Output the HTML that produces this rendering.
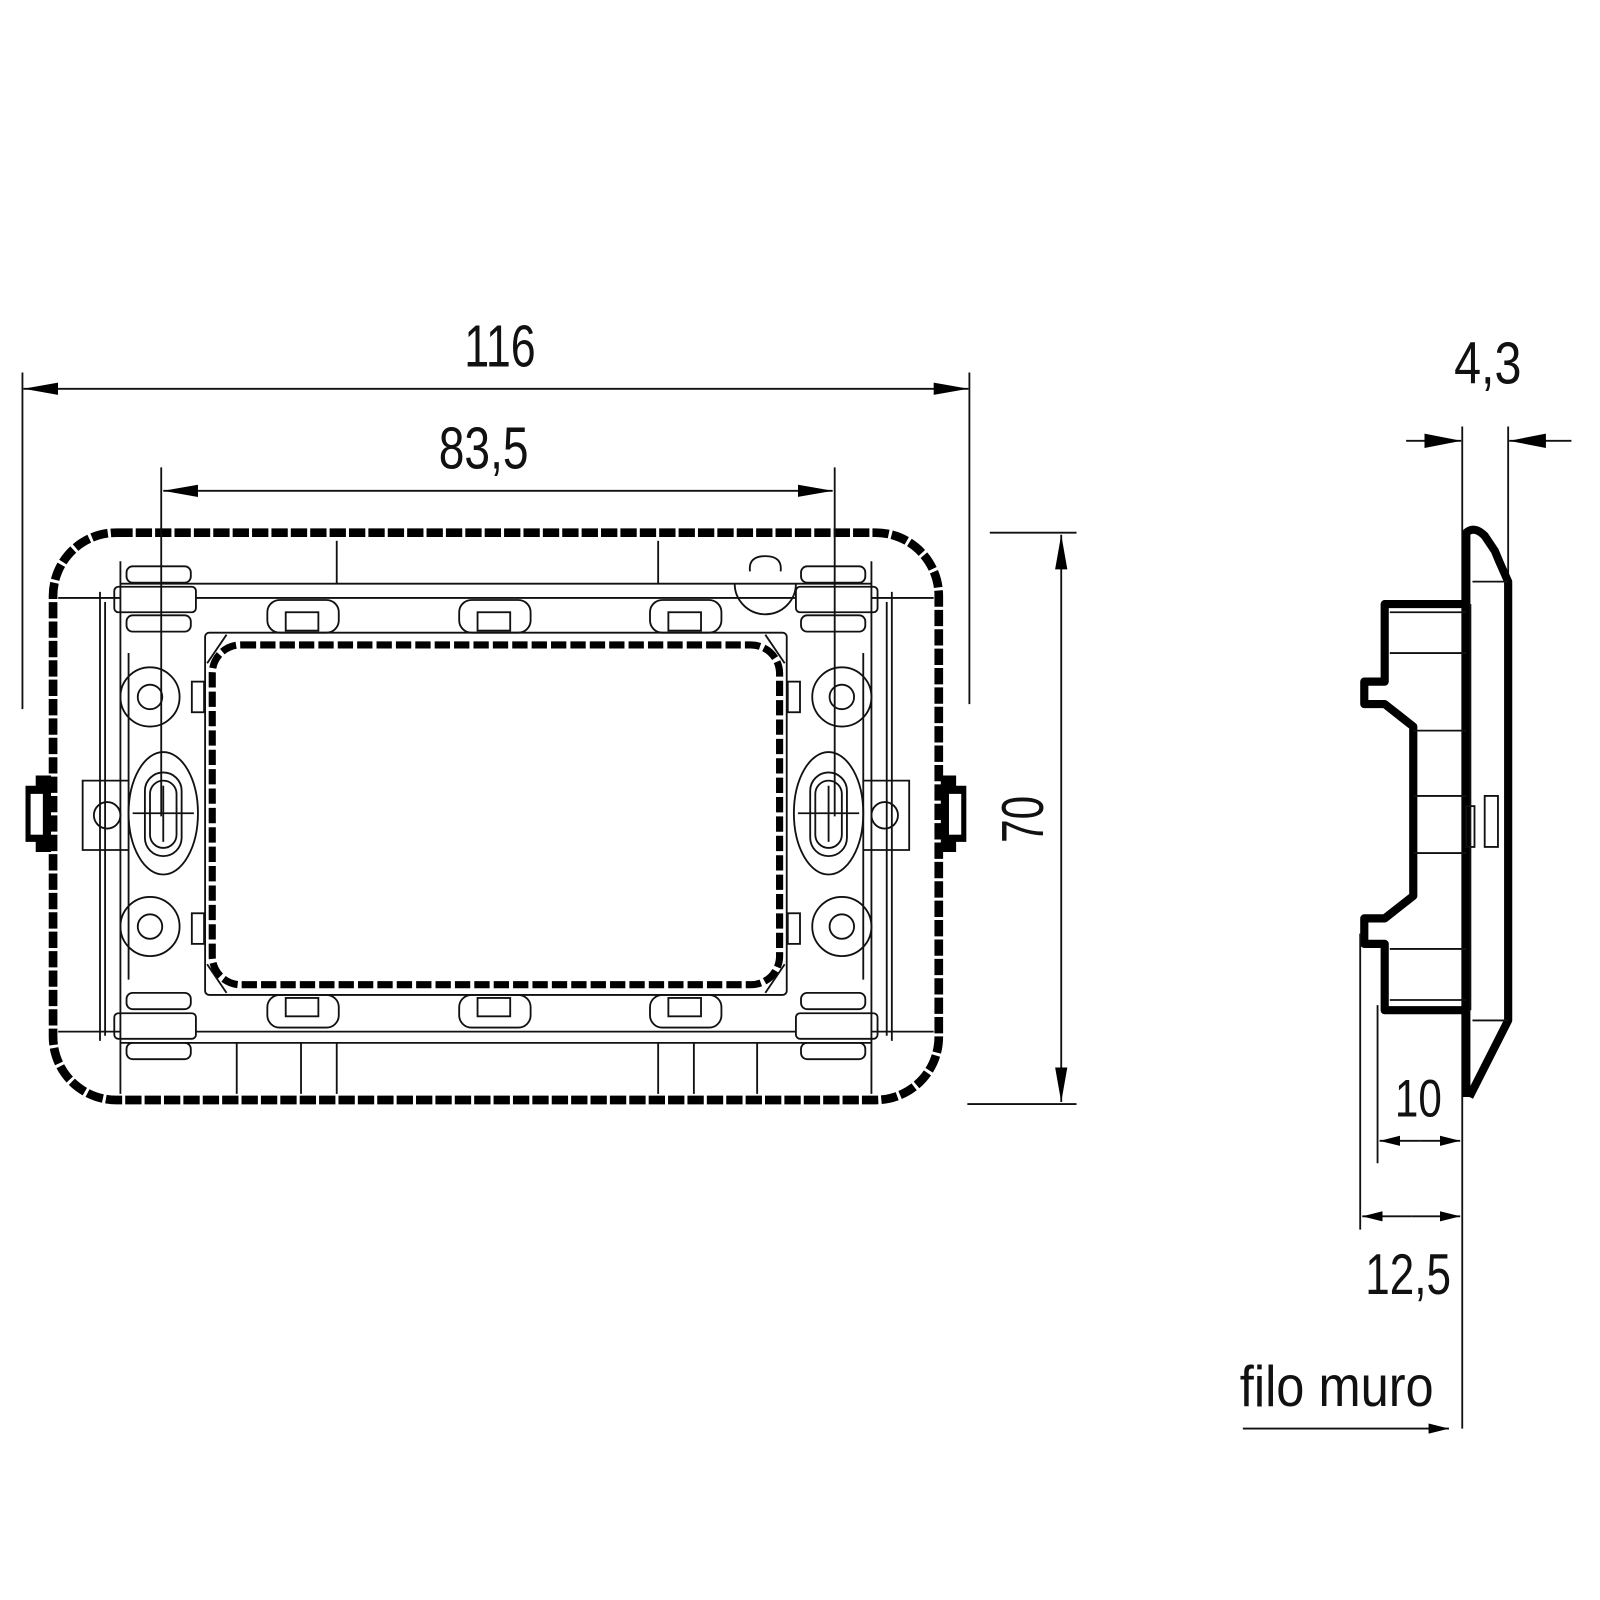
<!DOCTYPE html>
<html><head><meta charset="utf-8"><style>
html,body{margin:0;padding:0;background:#fff;}
svg{display:block;}
text{font-family:"Liberation Sans Narrow","Liberation Sans",sans-serif;fill:#111;}
</style></head><body>
<svg width="1600" height="1600" viewBox="0 0 1568 1568" xmlns="http://www.w3.org/2000/svg">
<defs>
<marker id="ah" viewBox="0 0 20 10" refX="20" refY="5" markerWidth="20" markerHeight="10" markerUnits="userSpaceOnUse" orient="auto-start-reverse">
<path d="M0,0 L20,5 L0,10 z" fill="#000"/>
</marker>
<marker id="ah2" viewBox="0 0 34 12" refX="34" refY="6" markerWidth="34" markerHeight="12" markerUnits="userSpaceOnUse" orient="auto-start-reverse">
<path d="M0,0 L34,6 L0,12 z" fill="#000"/>
</marker>
<marker id="ah3" viewBox="0 0 36 14" refX="36" refY="7" markerWidth="36" markerHeight="14" markerUnits="userSpaceOnUse" orient="auto-start-reverse">
<path d="M0,0 L36,7 L0,14 z" fill="#000"/>
</marker>
<g id="half" fill="none" stroke="#111" stroke-width="1.8">
  <line x1="98" y1="580" x2="98" y2="1020"/>
  <line x1="103" y1="590" x2="103" y2="1015"/>
  <line x1="118" y1="550" x2="118" y2="1072"/>
  <line x1="57" y1="586" x2="118" y2="586"/>
  <line x1="57" y1="1011" x2="118" y2="1011"/>
  <line x1="126" y1="640" x2="126" y2="960"/>
  <rect x="124" y="555" width="63" height="16" rx="6"/>
  <rect x="112" y="575" width="80" height="25" rx="4"/>
  <rect x="124" y="603" width="63" height="16" rx="6"/>
  <rect x="124" y="973" width="63" height="16" rx="6"/>
  <rect x="112" y="993" width="80" height="25" rx="4"/>
  <rect x="124" y="1022" width="63" height="16" rx="6"/>
  <circle cx="147" cy="683" r="29"/>
  <circle cx="147" cy="683" r="12"/>
  <circle cx="147" cy="908" r="29"/>
  <circle cx="147" cy="908" r="12"/>
  <ellipse cx="160" cy="797" rx="34" ry="60"/>
  <rect x="142" y="757" width="36" height="82" rx="18"/>
  <rect x="147" y="765" width="26" height="66" rx="13"/>
  <line x1="130" y1="797" x2="190" y2="797"/>
  <line x1="160" y1="770" x2="160" y2="825"/>
  <path d="M126,765 L81,765 L81,833 L126,833"/>
  <circle cx="105" cy="799" r="13"/>
  <rect x="188" y="668" width="12" height="30"/>
  <rect x="188" y="895" width="12" height="30"/>
  <line x1="203" y1="650" x2="222" y2="622"/>
  <line x1="203" y1="945" x2="222" y2="973"/>
</g>
</defs>

<g fill="none" stroke="#111">
  <rect x="52" y="522" width="868" height="556" rx="62" stroke="#000" stroke-width="8.5" stroke-dasharray="16 3"/>
  <path d="M50,760 L35,760 L35,770 L25,770 L25,825 L35,825 L35,835 L50,835 Z" fill="#000" stroke="none"/>
  <path d="M922,760 L937,760 L937,770 L947,770 L947,825 L937,825 L937,835 L922,835 Z" fill="#000" stroke="none"/>
  <rect x="30" y="778" width="12" height="40" fill="#fff" stroke="none"/>
  <rect x="930" y="778" width="12" height="40" fill="#fff" stroke="none"/>
  <g stroke-width="1.8">
  <line x1="118" y1="572" x2="854" y2="572"/>
  <line x1="192" y1="586" x2="780" y2="586"/>
  <line x1="192" y1="1011" x2="780" y2="1011"/>
  <line x1="118" y1="1022" x2="854" y2="1022"/>
  <line x1="330" y1="530" x2="330" y2="572"/>
  <line x1="645" y1="530" x2="645" y2="572"/>
  <line x1="232" y1="1022" x2="232" y2="1072"/>
  <line x1="295" y1="1022" x2="295" y2="1072"/>
  <line x1="330" y1="1022" x2="330" y2="1072"/>
  <line x1="645" y1="1022" x2="645" y2="1072"/>
  <line x1="680" y1="1022" x2="680" y2="1072"/>
  <line x1="742" y1="1022" x2="742" y2="1072"/>
  <rect x="201" y="620" width="570" height="355" rx="4"/>
  <path d="M720,572 A30,30 0 0 0 780,572 M735,560 Q733,545 750,545 Q767,545 765,560"/>
  </g>
  <use href="#half"/>
  <use href="#half" transform="translate(972,0) scale(-1,1)"/>
  <g stroke-width="1.8">
  <rect x="262" y="588" width="70" height="32" rx="12"/>
  <rect x="280" y="600" width="32" height="18"/>
  <rect x="450" y="588" width="70" height="32" rx="12"/>
  <rect x="468" y="600" width="32" height="18"/>
  <rect x="637" y="588" width="70" height="32" rx="12"/>
  <rect x="655" y="600" width="32" height="18"/>
  <rect x="262" y="975" width="70" height="32" rx="12"/>
  <rect x="280" y="978" width="32" height="18"/>
  <rect x="450" y="975" width="70" height="32" rx="12"/>
  <rect x="468" y="978" width="32" height="18"/>
  <rect x="637" y="975" width="70" height="32" rx="12"/>
  <rect x="655" y="978" width="32" height="18"/>
  </g>
  <rect x="208" y="632" width="556" height="333" rx="28" stroke="#000" stroke-width="7" stroke-dasharray="15 4"/>
</g>

<g stroke="#111" stroke-width="1.8" fill="none">
  <line x1="22" y1="365" x2="22" y2="695"/>
  <line x1="950" y1="365" x2="950" y2="690"/>
  <line x1="23" y1="381" x2="949" y2="381" marker-start="url(#ah2)" marker-end="url(#ah2)"/>
  <line x1="158" y1="458" x2="158" y2="800"/>
  <line x1="818" y1="458" x2="818" y2="800"/>
  <line x1="160" y1="481" x2="816" y2="481" marker-start="url(#ah2)" marker-end="url(#ah2)"/>
  <line x1="970" y1="522" x2="1055" y2="522"/>
  <line x1="948" y1="1082" x2="1055" y2="1082"/>
  <line x1="1040" y1="524" x2="1040" y2="1080" marker-start="url(#ah2)" marker-end="url(#ah2)"/>
</g>
<text x="490" y="359" font-size="58" text-anchor="middle" textLength="70" lengthAdjust="spacingAndGlyphs">116</text>
<text x="474" y="459" font-size="58" text-anchor="middle" textLength="88" lengthAdjust="spacingAndGlyphs">83,5</text>
<text transform="translate(1022,803) rotate(-90)" font-size="58" text-anchor="middle" textLength="46" lengthAdjust="spacingAndGlyphs">70</text>

<g fill="none" stroke="#111" stroke-width="1.8">
  <line x1="1433" y1="418" x2="1433" y2="1400"/>
  <line x1="1478" y1="418" x2="1478" y2="580"/>
  <line x1="1378" y1="432" x2="1432" y2="432" marker-end="url(#ah3)"/>
  <line x1="1540" y1="432" x2="1479" y2="432" marker-end="url(#ah3)"/>
  <path d="M1437,1075 L1437,522 Q1445,515 1455,525 L1465,540 L1470,552 L1478,570 L1478,1000 L1440,1075" stroke="#000" stroke-width="8" stroke-linejoin="round"/>
  <path d="M1437,592 L1357,592 L1357,668 L1337,668 L1337,690 L1357,690 L1385,712 L1385,878 L1357,900 L1337,900 L1337,925 L1357,925 L1357,990 L1437,990" stroke="#000" stroke-width="8" stroke-linejoin="round"/>
  <line x1="1443" y1="570" x2="1478" y2="570"/>
  <line x1="1443" y1="1000" x2="1478" y2="1000"/>
  <line x1="1441" y1="592" x2="1441" y2="990"/>
  <line x1="1362" y1="600" x2="1437" y2="600"/>
  <line x1="1362" y1="640" x2="1437" y2="640"/>
  <line x1="1385" y1="716" x2="1437" y2="716"/>
  <line x1="1385" y1="780" x2="1437" y2="780"/>
  <line x1="1385" y1="836" x2="1437" y2="836"/>
  <line x1="1362" y1="930" x2="1437" y2="930"/>
  <line x1="1362" y1="980" x2="1437" y2="980"/>
  <rect x="1437" y="790" width="8" height="40"/>
  <rect x="1455" y="780" width="13" height="50"/>
  <line x1="1350" y1="985" x2="1350" y2="1140"/>
  <line x1="1333" y1="915" x2="1333" y2="1205"/>
  <line x1="1391" y1="1118" x2="1352" y2="1118" marker-end="url(#ah)"/>
  <line x1="1391" y1="1118" x2="1431" y2="1118" marker-end="url(#ah)"/>
  <line x1="1383" y1="1192" x2="1335" y2="1192" marker-end="url(#ah)"/>
  <line x1="1383" y1="1192" x2="1431" y2="1192" marker-end="url(#ah)"/>
  <line x1="1218" y1="1400" x2="1420" y2="1400" marker-end="url(#ah)"/>
</g>
<text x="1458" y="376" font-size="58" text-anchor="middle" textLength="66" lengthAdjust="spacingAndGlyphs">4,3</text>
<text x="1390" y="1094" font-size="52" text-anchor="middle" textLength="46" lengthAdjust="spacingAndGlyphs">10</text>
<text x="1380" y="1268" font-size="56" text-anchor="middle" textLength="84" lengthAdjust="spacingAndGlyphs">12,5</text>
<text x="1310" y="1378" font-size="56" text-anchor="middle" textLength="190" lengthAdjust="spacingAndGlyphs">filo muro</text>
</svg>
</body></html>
